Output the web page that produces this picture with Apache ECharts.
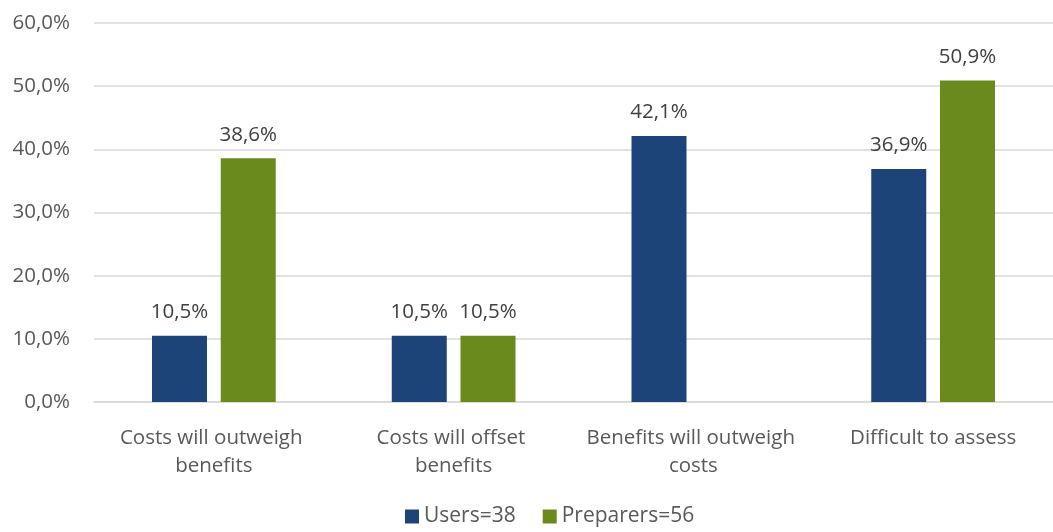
<!DOCTYPE html>
<html><head><meta charset="utf-8">
<script src="https://cdn.jsdelivr.net/npm/echarts@6/dist/echarts.min.js"></script>
<style>html,body{margin:0;padding:0;background:#fff}#c{width:1053px;height:532px}</style>
</head><body><div id="c"></div>
<script>
const categories = ["Costs will outweigh benefits", "Costs will offset benefits", "Benefits will outweigh costs", "Difficult to assess"];
const seriesNames = ["Users=38", "Preparers=56"];
const users = [10.5, 10.5, 42.1, 36.9];
const preparers = [38.6, 10.5, null, 50.9];
const FONT = "'Open Sans', 'Noto Sans', sans-serif";
const FS = 20.5;
const fmt = v => v.toFixed(1).replace('.', ',') + '%';
const chart = echarts.init(document.getElementById('c'), null, {renderer: 'canvas'});
const labelCfg = {show: true, position: 'top', distance: 13, fontFamily: FONT, fontSize: FS, color: '#404040',
  formatter: p => p.value == null ? '' : fmt(p.value)};
chart.setOption({
  animation: false,
  textStyle: {fontFamily: FONT},
  grid: {left: 94, width: 968, top: 23, bottom: 130, containLabel: false},
  legend: {bottom: 0, left: 400, itemWidth: 14, itemHeight: 14, itemGap: 27,
    textStyle: {fontFamily: FONT, fontSize: 21, color: '#595959'},
    data: seriesNames.map(n => ({name: n, icon: 'rect'}))},
  xAxis: {type: 'category', data: categories,
    axisLine: {show: true, lineStyle: {color: '#d9d9d9', width: 1.5}}, axisTick: {show: false},
    axisLabel: {fontFamily: FONT, fontSize: FS, color: '#595959', margin: 22, lineHeight: 28,
      width: 218, overflow: 'break', interval: 0}},
  yAxis: {type: 'value', min: 0, max: 60, interval: 10,
    axisLine: {show: false}, axisTick: {show: false},
    splitLine: {lineStyle: {color: '#d9d9d9', width: 1.5}},
    axisLabel: {formatter: v => fmt(v), fontFamily: FONT, fontSize: FS, color: '#595959', margin: 24}},
  series: [
    {name: seriesNames[0], type: 'bar', data: users, barWidth: 55, barGap: '25%',
     itemStyle: {color: '#1c4479'}, label: labelCfg},
    {name: seriesNames[1], type: 'bar', data: preparers, barWidth: 55,
     itemStyle: {color: '#6a8b1c'}, label: labelCfg}
  ]
});
</script></body></html>
